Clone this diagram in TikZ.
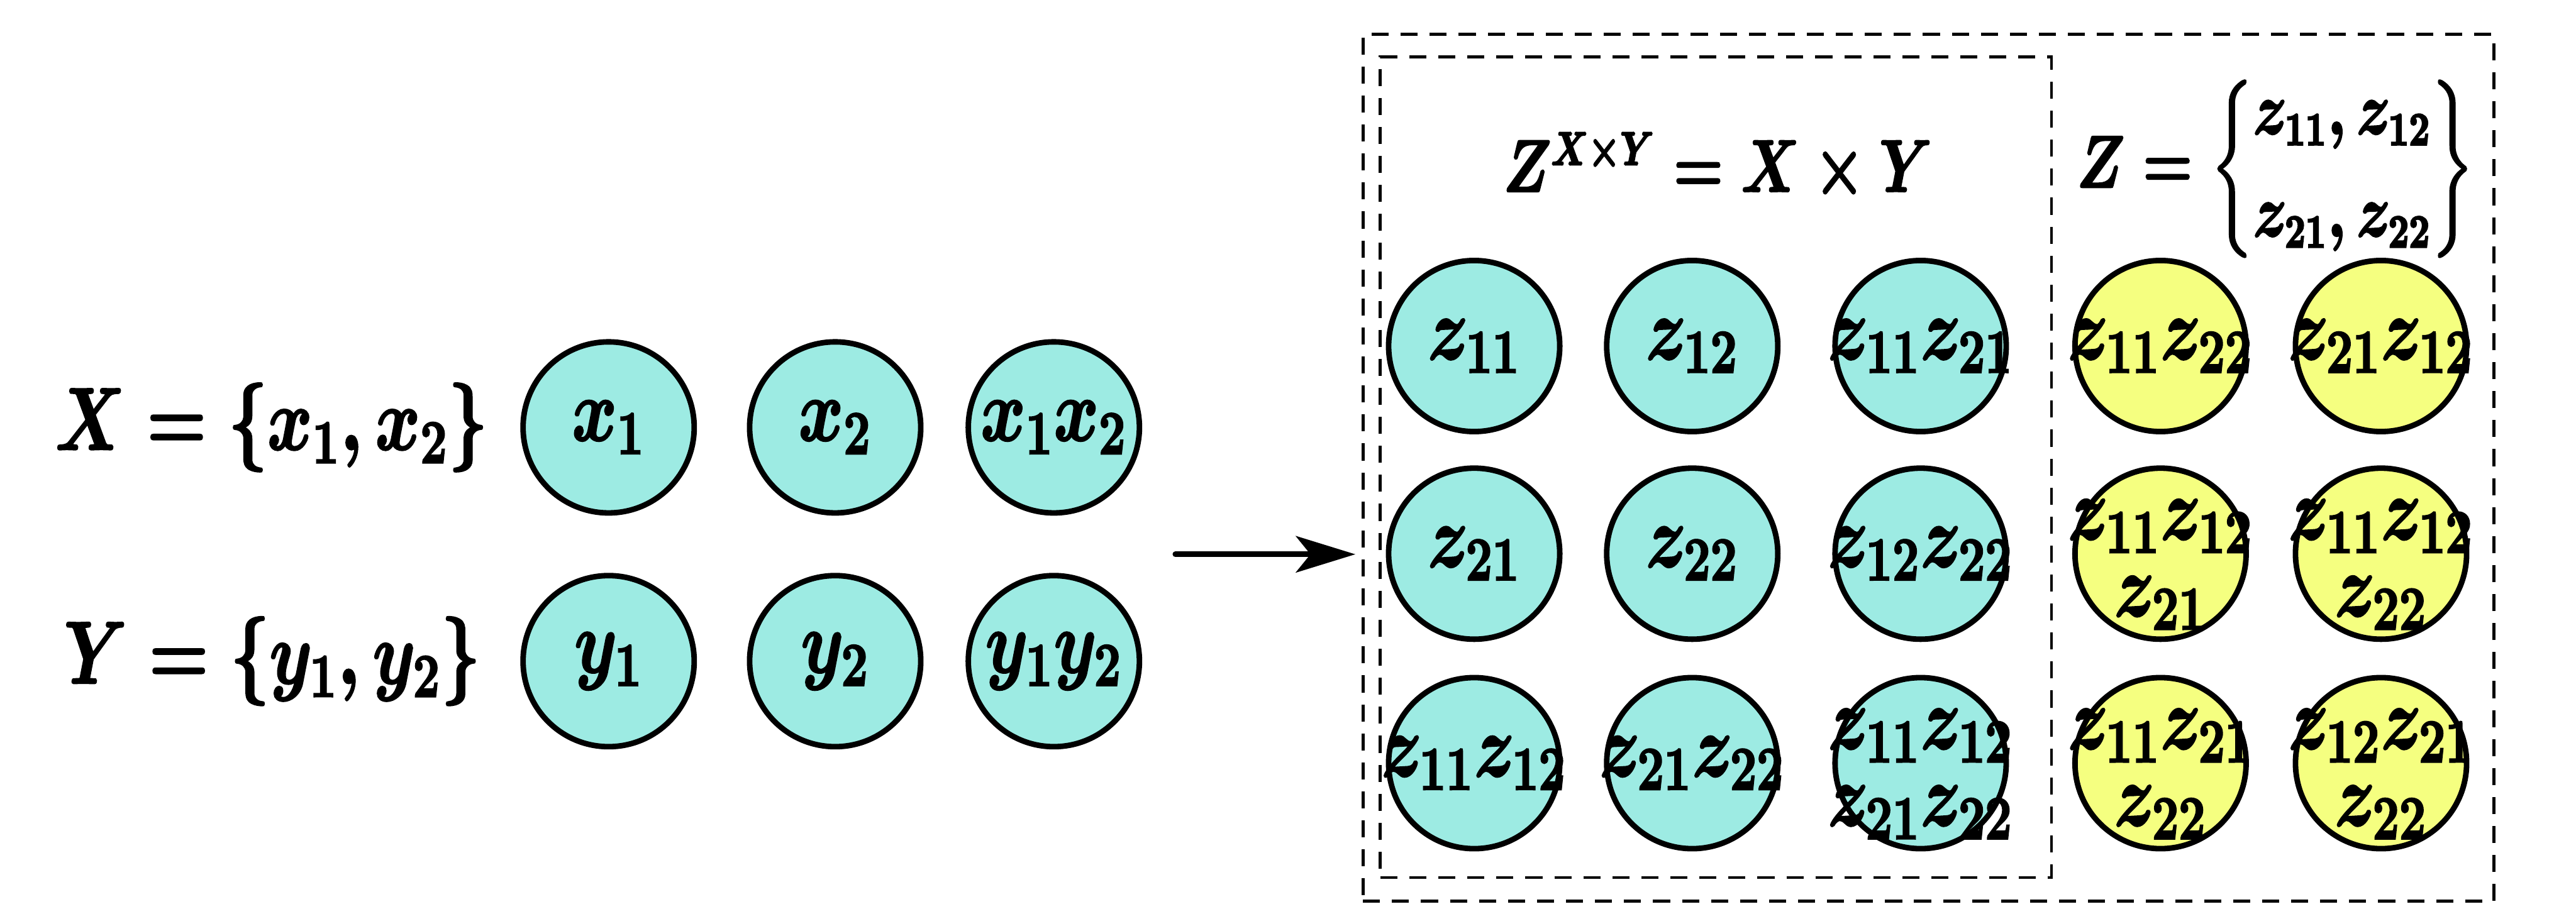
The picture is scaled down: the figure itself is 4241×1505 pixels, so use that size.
\documentclass[tikz,border=0pt]{standalone}
\usepackage{amsmath}
\usetikzlibrary{arrows.meta,positioning}
\definecolor{ballcyan}{RGB}{157,235,227}
\definecolor{ballyellow}{RGB}{245,255,128}
% narrow, heavy math as in the figure
\newcommand{\cond}[1]{\scalebox{0.77}[1]{\special{pdf:literal direct 2 Tr 0.45 w}#1\special{pdf:literal direct 0 Tr}}}

\begin{document}
\begin{tikzpicture}[
    x=0.005cm, y=-0.005cm,
    font=\fontsize{20}{17}\selectfont\boldmath,
    ball/.style={circle, draw, line width=1.3pt, minimum size=1.41cm, inner sep=0pt},
    cball/.style={ball, fill=ballcyan},
    yball/.style={ball, fill=ballyellow},
    txt/.style={align=center, inner sep=0pt},
    txtt/.style={txt, yshift=-0.09cm, font=\fontsize{20}{18}\selectfont\boldmath},
    dbox/.style={draw, line width=0.7pt, dash pattern=on 4pt off 2.8pt, inner sep=0pt},
    head/.style={font=\fontsize{16}{19}\selectfont\boldmath},
    ar/.style={-{Stealth[length=0.49cm, width=0.3cm, inset=0.12cm]}, line width=1.3pt, line cap=round},
  ]
    \useasboundingbox (0,0) rectangle (4241,1505);
    % input sets
    \node (xset) at (447,704) {\cond{$X=\{x_1, x_2\}$}};
    \node (yset) at (448,1089) {\cond{$Y=\{y_1, y_2\}$}};
    \node[cball, label={[txt]center:\cond{$x_1$}}] (x1) at (1002,704) {};
    \node[cball, label={[txt]center:\cond{$x_2$}}] (x2) at (1375,704) {};
    \node[cball, label={[txt]center:\cond{$x_1x_2$}}] (x12) at (1735,704) {};
    \node[cball, label={[txt]center:\cond{$y_1$}}] (y1) at (1002,1089) {};
    \node[cball, label={[txt]center:\cond{$y_2$}}] (y2) at (1375,1089) {};
    \node[cball, label={[txt]center:\cond{$y_1y_2$}}] (y12) at (1735,1089) {};
    % frames
    \node[dbox, minimum width=9.32cm, minimum height=7.145cm] (outer) at (3175,770.5) {};
    \node[dbox, minimum width=5.53cm, minimum height=6.765cm] (inner) at (2825,769.5) {};
    \node[head] (prod) at (2828,275) {\cond{$Z^{X\times Y}=X\times Y$}};
    \node[head] (zset) at (3746,278) {\cond{$Z=\left\{\begin{matrix} z_{11}, z_{12}\\[5pt] z_{21}, z_{22}\end{matrix}\right\}$}};
    % product elements
    \node[cball, label={[txt]center:\cond{$z_{11}$}}] (z11) at (2427,570) {};
    \node[cball, label={[txt]center:\cond{$z_{12}$}}] (z12) at (2786,570) {};
    \node[cball, label={[txt]center:\cond{$z_{11}z_{21}$}}] (z1121) at (3162,570) {};
    \node[cball, label={[txt]center:\cond{$z_{21}$}}] (z21) at (2427,912) {};
    \node[cball, label={[txt]center:\cond{$z_{22}$}}] (z22) at (2786,912) {};
    \node[cball, label={[txt]center:\cond{$z_{12}z_{22}$}}] (z1222) at (3162,912) {};
    \node[cball, label={[txt]center:\cond{$z_{11}z_{12}$}}] (z1112) at (2427,1257) {};
    \node[cball, label={[txt]center:\cond{$z_{21}z_{22}$}}] (z2122) at (2786,1257) {};
    \node[cball, label={[txtt]center:\cond{$z_{11}z_{12}$}\\\cond{$z_{21}z_{22}$}}] (zall) at (3162,1257) {};
    % extra elements
    \node[yball, label={[txt]center:\cond{$z_{11}z_{22}$}}] (w1122) at (3557,570) {};
    \node[yball, label={[txt]center:\cond{$z_{21}z_{12}$}}] (w2112) at (3920,570) {};
    \node[yball, label={[txtt]center:\cond{$z_{11}z_{12}$}\\\cond{$z_{21}$}}] (w112) at (3557,912) {};
    \node[yball, label={[txtt]center:\cond{$z_{11}z_{12}$}\\\cond{$z_{22}$}}] (w122) at (3920,912) {};
    \node[yball, label={[txtt]center:\cond{$z_{11}z_{21}$}\\\cond{$z_{22}$}}] (w212) at (3557,1257) {};
    \node[yball, label={[txtt]center:\cond{$z_{12}z_{21}$}\\\cond{$z_{22}$}}] (w222) at (3920,1257) {};
    \coordinate (src) at (1935,913);
    \draw[ar, shorten >=0.05cm] (src) -- (outer.west |- src);
\end{tikzpicture}
\end{document}
